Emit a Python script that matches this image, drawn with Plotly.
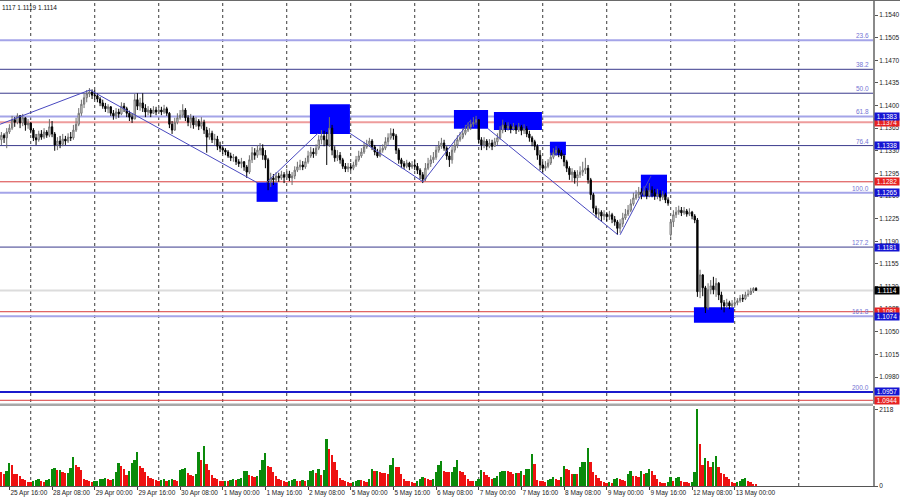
import plotly.graph_objects as go

# ---------------- DATA (EURUSD H1, bar index 0 = 25 Apr 13:00) ----------------
closes = [
    1.1354, 1.1350, 1.1359, 1.1365, 1.1378, 1.1374, 1.1384, 1.1373, 1.1381, 1.1370, 1.1373,
    1.1362, 1.1350, 1.1347, 1.1356, 1.1351, 1.1359, 1.1354, 1.1367, 1.1356, 1.1339, 1.1345, 1.1340,
    1.1348, 1.1345, 1.1351, 1.1350, 1.1362, 1.1371, 1.1388, 1.1402, 1.1412, 1.1418, 1.1421, 1.1416,
    1.1415, 1.1410, 1.1404, 1.1399, 1.1395, 1.1398, 1.1388, 1.1384, 1.1390, 1.1387, 1.1399, 1.1395,
    1.1388, 1.1382, 1.1379, 1.1409, 1.1399, 1.1404, 1.1396, 1.1390, 1.1393, 1.1388, 1.1393, 1.1390,
    1.1393, 1.1390, 1.1395, 1.1388, 1.1371, 1.1362, 1.1374, 1.1381, 1.1385, 1.1393, 1.1381, 1.1374,
    1.1381, 1.1370, 1.1376, 1.1368, 1.1374, 1.1362, 1.1351, 1.1357, 1.1347, 1.1348, 1.1337, 1.1334,
    1.1331, 1.1328, 1.1322, 1.1319, 1.1320, 1.1313, 1.1310, 1.1313, 1.1305, 1.1297, 1.1316, 1.1327,
    1.1323, 1.1331, 1.1334, 1.1323, 1.1316, 1.1282, 1.1288, 1.1285, 1.1291, 1.1288, 1.1293, 1.1289,
    1.1294, 1.1288, 1.1291, 1.1300, 1.1305, 1.1308, 1.1305, 1.1313, 1.1322, 1.1328, 1.1325, 1.1334,
    1.1347, 1.1353, 1.1347, 1.1339, 1.1365, 1.1331, 1.1319, 1.1323, 1.1316, 1.1306, 1.1302, 1.1305,
    1.1303, 1.1308, 1.1316, 1.1322, 1.1328, 1.1336, 1.1340, 1.1345, 1.1336, 1.1328, 1.1322, 1.1331,
    1.1334, 1.1344, 1.1350, 1.1357, 1.1353, 1.1331, 1.1316, 1.1310, 1.1306, 1.1311, 1.1305, 1.1308,
    1.1306, 1.1300, 1.1293, 1.1286, 1.1303, 1.1310, 1.1316, 1.1320, 1.1331, 1.1337, 1.1342, 1.1334,
    1.1322, 1.1316, 1.1331, 1.1339, 1.1347, 1.1351, 1.1357, 1.1362, 1.1367, 1.1371, 1.1374, 1.1378,
    1.1347, 1.1339, 1.1345, 1.1337, 1.1342, 1.1337, 1.1344, 1.1350, 1.1362, 1.1370, 1.1365, 1.1368,
    1.1364, 1.1367, 1.1362, 1.1367, 1.1361, 1.1364, 1.1356, 1.1350, 1.1344, 1.1337, 1.1323, 1.1308,
    1.1303, 1.1306, 1.1311, 1.1320, 1.1327, 1.1331, 1.1327, 1.1322, 1.1313, 1.1303, 1.1293, 1.1297,
    1.1288, 1.1293, 1.1297, 1.1300, 1.1303, 1.1285, 1.1262, 1.1241, 1.1232, 1.1235, 1.1229, 1.1232,
    1.1228, 1.1231, 1.1224, 1.1220, 1.1210, 1.1217, 1.1226, 1.1232, 1.1238, 1.1248, 1.1257, 1.1262,
    1.1266, 1.1262, 1.1268, 1.1260, 1.1269, 1.1265, 1.1260, 1.1263, 1.1258, 1.1262, 1.1254, 1.1249,
    1.1220, 1.1231, 1.1235, 1.1238, 1.1234, 1.1237, 1.1232, 1.1235, 1.1229, 1.1223, 1.1112, 1.1138,
    1.1118, 1.1087, 1.1115, 1.1121, 1.1115, 1.1125, 1.1107, 1.1095, 1.1090, 1.1095, 1.1090, 1.1093,
    1.1095, 1.1098, 1.1102, 1.1101, 1.1107, 1.1108, 1.1113, 1.1117, 1.1114,
]
highs = [
    1.1359, 1.1357, 1.1365, 1.1371, 1.1384, 1.1382, 1.1388, 1.1385, 1.1387, 1.1379, 1.1379,
    1.1374, 1.1365, 1.1356, 1.1361, 1.1362, 1.1365, 1.1362, 1.1379, 1.1376, 1.1359, 1.1351, 1.1353,
    1.1356, 1.1353, 1.1357, 1.1359, 1.1370, 1.1381, 1.1396, 1.1409, 1.1419, 1.1424, 1.1427, 1.1425,
    1.1424, 1.1419, 1.1413, 1.1409, 1.1404, 1.1402, 1.1399, 1.1393, 1.1396, 1.1395, 1.1405, 1.1404,
    1.1398, 1.1392, 1.1388, 1.1418, 1.1419, 1.1412, 1.1419, 1.1402, 1.1399, 1.1396, 1.1399, 1.1398,
    1.1399, 1.1398, 1.1401, 1.1398, 1.1390, 1.1376, 1.1381, 1.1388, 1.1393, 1.1402, 1.1396, 1.1385,
    1.1387, 1.1384, 1.1382, 1.1379, 1.1382, 1.1378, 1.1367, 1.1365, 1.1361, 1.1356, 1.1353, 1.1344,
    1.1337, 1.1334, 1.1331, 1.1327, 1.1325, 1.1322, 1.1317, 1.1319, 1.1314, 1.1308, 1.1323, 1.1336,
    1.1334, 1.1339, 1.1342, 1.1340, 1.1331, 1.1319, 1.1296, 1.1294, 1.1297, 1.1296, 1.1299, 1.1297,
    1.1302, 1.1299, 1.1297, 1.1306, 1.1313, 1.1316, 1.1314, 1.1319, 1.1330, 1.1336, 1.1334, 1.1340,
    1.1354, 1.1362, 1.1361, 1.1359, 1.1382, 1.1370, 1.1337, 1.1331, 1.1328, 1.1319, 1.1311, 1.1311,
    1.1311, 1.1313, 1.1322, 1.1330, 1.1334, 1.1344, 1.1347, 1.1350, 1.1348, 1.1339, 1.1333, 1.1337,
    1.1340, 1.1351, 1.1357, 1.1365, 1.1364, 1.1356, 1.1334, 1.1319, 1.1314, 1.1316, 1.1313, 1.1314,
    1.1316, 1.1311, 1.1303, 1.1297, 1.1311, 1.1319, 1.1323, 1.1328, 1.1337, 1.1345, 1.1350, 1.1347,
    1.1337, 1.1328, 1.1337, 1.1347, 1.1354, 1.1359, 1.1365, 1.1370, 1.1374, 1.1378, 1.1382, 1.1384,
    1.1378, 1.1351, 1.1351, 1.1348, 1.1348, 1.1347, 1.1350, 1.1357, 1.1368, 1.1378, 1.1374, 1.1374,
    1.1371, 1.1373, 1.1370, 1.1373, 1.1370, 1.1371, 1.1368, 1.1361, 1.1353, 1.1347, 1.1340, 1.1331,
    1.1313, 1.1314, 1.1317, 1.1327, 1.1334, 1.1337, 1.1334, 1.1331, 1.1325, 1.1316, 1.1306, 1.1303,
    1.1300, 1.1300, 1.1306, 1.1313, 1.1319, 1.1308, 1.1288, 1.1265, 1.1245, 1.1241, 1.1238, 1.1238,
    1.1235, 1.1237, 1.1234, 1.1229, 1.1223, 1.1224, 1.1234, 1.1240, 1.1246, 1.1255, 1.1265, 1.1269,
    1.1274, 1.1272, 1.1275, 1.1272, 1.1280, 1.1275, 1.1271, 1.1271, 1.1269, 1.1268, 1.1265, 1.1258,
    1.1223, 1.1238, 1.1243, 1.1245, 1.1243, 1.1243, 1.1240, 1.1241, 1.1237, 1.1232, 1.1226, 1.1146,
    1.1139, 1.1121, 1.1125, 1.1130, 1.1135, 1.1133, 1.1127, 1.1112, 1.1099, 1.1101, 1.1098, 1.1099,
    1.1101, 1.1102, 1.1107, 1.1108, 1.1112, 1.1115, 1.1118, 1.1119, 1.1119,
]
lows = [
    1.1339, 1.1342, 1.1334, 1.1356, 1.1362, 1.1367, 1.1371, 1.1365, 1.1368, 1.1361, 1.1364,
    1.1357, 1.1345, 1.1339, 1.1344, 1.1347, 1.1348, 1.1350, 1.1351, 1.1351, 1.1330, 1.1331, 1.1334,
    1.1337, 1.1339, 1.1342, 1.1345, 1.1347, 1.1359, 1.1368, 1.1384, 1.1396, 1.1405, 1.1413, 1.1410,
    1.1409, 1.1405, 1.1399, 1.1395, 1.1390, 1.1388, 1.1384, 1.1378, 1.1379, 1.1381, 1.1385, 1.1390,
    1.1382, 1.1376, 1.1373, 1.1379, 1.1393, 1.1392, 1.1390, 1.1382, 1.1385, 1.1382, 1.1387, 1.1385,
    1.1387, 1.1385, 1.1387, 1.1384, 1.1365, 1.1356, 1.1361, 1.1371, 1.1378, 1.1381, 1.1376, 1.1368,
    1.1365, 1.1364, 1.1367, 1.1362, 1.1364, 1.1356, 1.1327, 1.1347, 1.1342, 1.1339, 1.1331, 1.1328,
    1.1325, 1.1323, 1.1319, 1.1314, 1.1313, 1.1308, 1.1305, 1.1303, 1.1299, 1.1288, 1.1294, 1.1311,
    1.1316, 1.1319, 1.1323, 1.1316, 1.1303, 1.1269, 1.1274, 1.1277, 1.1280, 1.1282, 1.1285, 1.1280,
    1.1285, 1.1283, 1.1277, 1.1286, 1.1297, 1.1300, 1.1300, 1.1302, 1.1310, 1.1319, 1.1319, 1.1322,
    1.1331, 1.1340, 1.1337, 1.1308, 1.1336, 1.1323, 1.1313, 1.1314, 1.1310, 1.1302, 1.1297, 1.1297,
    1.1299, 1.1300, 1.1305, 1.1313, 1.1319, 1.1325, 1.1333, 1.1336, 1.1331, 1.1323, 1.1319, 1.1320,
    1.1327, 1.1331, 1.1339, 1.1347, 1.1347, 1.1325, 1.1310, 1.1303, 1.1302, 1.1303, 1.1300, 1.1302,
    1.1300, 1.1294, 1.1286, 1.1280, 1.1283, 1.1300, 1.1305, 1.1311, 1.1316, 1.1327, 1.1333, 1.1330,
    1.1316, 1.1305, 1.1310, 1.1327, 1.1334, 1.1344, 1.1348, 1.1354, 1.1359, 1.1362, 1.1367, 1.1370,
    1.1342, 1.1331, 1.1334, 1.1331, 1.1334, 1.1331, 1.1336, 1.1339, 1.1347, 1.1357, 1.1359, 1.1361,
    1.1357, 1.1361, 1.1356, 1.1359, 1.1354, 1.1356, 1.1351, 1.1344, 1.1337, 1.1331, 1.1316, 1.1300,
    1.1297, 1.1299, 1.1303, 1.1308, 1.1317, 1.1322, 1.1320, 1.1317, 1.1306, 1.1297, 1.1285, 1.1282,
    1.1279, 1.1275, 1.1288, 1.1291, 1.1294, 1.1279, 1.1254, 1.1234, 1.1226, 1.1223, 1.1220, 1.1223,
    1.1221, 1.1223, 1.1218, 1.1214, 1.1200, 1.1203, 1.1212, 1.1223, 1.1229, 1.1235, 1.1245, 1.1254,
    1.1257, 1.1255, 1.1258, 1.1255, 1.1258, 1.1258, 1.1254, 1.1255, 1.1252, 1.1254, 1.1249, 1.1245,
    1.1197, 1.1212, 1.1226, 1.1231, 1.1229, 1.1231, 1.1228, 1.1229, 1.1224, 1.1218, 1.1104, 1.1102,
    1.1105, 1.1079, 1.1084, 1.1108, 1.1108, 1.1104, 1.1099, 1.1084, 1.1080, 1.1087, 1.1085, 1.1087,
    1.1087, 1.1091, 1.1095, 1.1096, 1.1099, 1.1104, 1.1107, 1.1110, 1.1114,
]
# opens = previous close, except the first bar and the Monday 12 May gap
open_overrides = {0: 1.1347, 251: 1.1200}

volumes = [
    380, 330, 420, 630, 580, 340, 320, 280, 200, 170, 120,
    110, 150, 170, 190, 130, 110, 160, 180, 480, 490, 430, 450, 380, 360, 370, 500, 800, 580, 520, 430, 200, 170, 150, 110,
    130, 150, 180, 190, 230, 180, 170, 200, 400, 630, 550, 480, 300, 420, 630, 710, 950, 560, 490, 380, 280, 230, 180, 160,
    140, 160, 180, 150, 170, 190, 160, 150, 440, 470, 490, 350, 300, 280, 340, 930, 710, 1100, 620, 440, 300, 220, 180, 140,
    130, 150, 140, 160, 180, 170, 190, 220, 410, 420, 300, 270, 260, 280, 450, 710, 900, 550, 520, 380, 270, 200, 170, 130,
    110, 140, 170, 190, 150, 140, 160, 150, 170, 420, 440, 350, 470, 300, 440, 1300, 1020, 850, 670, 440, 220, 170, 130, 110,
    90, 110, 150, 170, 160, 140, 120, 190, 460, 410, 420, 380, 360, 350, 330, 580, 770, 530, 520, 330, 200, 150, 130, 100,
    80, 140, 200, 250, 230, 180, 160, 200, 380, 580, 690, 410, 400, 380, 400, 520, 710, 410, 380, 300, 180, 150, 130, 140,
    180, 440, 380, 300, 240, 200, 220, 270, 400, 410, 420, 410, 390, 330, 360, 350, 420, 300, 460, 470, 880, 600, 160, 140,
    130, 110, 170, 200, 240, 190, 170, 250, 540, 470, 440, 330, 340, 330, 520, 650, 670, 1050, 650, 380, 300, 220, 150, 120,
    90, 100, 80, 190, 210, 200, 170, 140, 340, 410, 280, 270, 260, 410, 340, 360, 470, 410, 300, 200, 110, 80, 70, 110,
    245, 140, 220, 250, 140, 120, 100, 90, 110, 380, 2118, 1150, 590, 770, 700, 520, 660, 840, 520, 360, 340, 250, 180, 100,
    80, 120, 150, 180, 210, 140, 110, 60, 30,
]

time_tick_idx = [3, 19, 35, 51, 67, 83, 99, 115, 131, 147, 163, 179, 195, 211, 227, 243, 259, 275]
time_tick_labels = ["25 Apr 16:00", "28 Apr 08:00", "29 Apr 00:00", "29 Apr 16:00", "30 Apr 08:00",
                    "1 May 00:00", "1 May 16:00", "2 May 08:00", "5 May 00:00", "5 May 16:00",
                    "6 May 08:00", "7 May 00:00", "7 May 16:00", "8 May 08:00", "9 May 00:00",
                    "9 May 16:00", "12 May 08:00", "13 May 00:00"]
day_start_idx = [11, 35, 59, 83, 107, 131, 155, 179, 203, 227, 251, 275, 299]

price_ticks = [1.0980, 1.1015, 1.1050, 1.1085, 1.1120, 1.1155, 1.1190, 1.1225, 1.1260,
               1.1295, 1.1330, 1.1365, 1.1400, 1.1435, 1.1470, 1.1505, 1.1540]

fib_labels = ["23.6", "38.2", "50.0", "61.8", "76.4", "100.0", "127.2", "161.8", "200.0"]
fib_prices = [1.1501, 1.1456, 1.1419, 1.1383, 1.1338, 1.1265, 1.1181, 1.1074, 1.0957]
fib_tagged = [False, False, False, True, True, True, True, True, True]
red_levels = [1.1374, 1.1282, 1.1081, 1.0944]
current_price = 1.1114

# zones: (bar_from, bar_to, price_low, price_high)
zones = [(95.7, 103.6, 1.1251, 1.1281), (115.7, 130.7, 1.1356, 1.1402),
         (169.7, 182.5, 1.1364, 1.1393), (184.7, 202.7, 1.1362, 1.1390),
         (205.7, 211.7, 1.1323, 1.1344), (239.8, 249.6, 1.1259, 1.1293),
         (259.7, 274.7, 1.1064, 1.1088)]
# zigzag trend lines: (bar0, price0, bar1, price1)
swings = [(-0.5, 1.1371, 33.2, 1.1424), (33.2, 1.1424, 96.2, 1.1280),
          (99.2, 1.1280, 118.7, 1.1357), (130.7, 1.1357, 158.1, 1.1282),
          (158.1, 1.1282, 175.7, 1.1376), (182.5, 1.1364, 231.2, 1.1200),
          (232.0, 1.1200, 243.6, 1.1291)]

header_text = "1117 1.1119 1.1114"

# ---------------- BUILD ----------------
n = len(closes)
xs = list(range(n))
opens = [open_overrides[i] if i in open_overrides else closes[i - 1] for i in range(n)]
highs_c = [max(h, o, c) for h, o, c in zip(highs, opens, closes)]
lows_c = [min(l, o, c) for l, o, c in zip(lows, opens, closes)]
vol_colors = ['#0a8a0a' if (i > 0 and volumes[i] > volumes[i - 1]) else '#ee1111' for i in range(n)]

FONT = "Liberation Sans"
FS = 6.5

fig = go.Figure()
fig.add_trace(go.Candlestick(
    x=xs, open=opens, high=highs_c, low=lows_c, close=closes,
    increasing=dict(line=dict(color='#6e6e6e', width=1), fillcolor='#ffffff'),
    decreasing=dict(line=dict(color='#000000', width=1), fillcolor='#000000'),
    whiskerwidth=0, xaxis='x', yaxis='y', hoverinfo='skip'))
fig.add_trace(go.Bar(x=xs, y=volumes, marker=dict(color=vol_colors, line=dict(width=0)),
                     width=0.72, xaxis='x', yaxis='y2', hoverinfo='skip'))

shapes = []
for b0, b1, p0, p1 in zones:
    shapes.append(dict(type='rect', xref='x', yref='y', x0=b0, x1=b1, y0=p0, y1=p1,
                       fillcolor='#0000ff', line=dict(width=0), layer='below'))
for d in day_start_idx:
    shapes.append(dict(type='line', xref='x', yref='paper', x0=d, x1=d, y0=0, y1=1,
                       line=dict(color='#3a3a3a', width=1, dash='3px,3px'), layer='below'))
for lab, p in zip(fib_labels, fib_prices):
    if lab in ("23.6", "61.8", "100.0", "161.8"):
        col, w = '#a4a4e8', 2
    elif lab == "200.0":
        col, w = '#1a1acc', 2
    else:
        col, w = '#3a3a8c', 1
    shapes.append(dict(type='line', xref='paper', yref='y', x0=0, x1=1, y0=p, y1=p,
                       line=dict(color=col, width=w), layer='below'))
for k, p in enumerate(red_levels):
    col, w = ('#ee9c9c', 2) if k == 0 else ('#d83c3c', 1)
    shapes.append(dict(type='line', xref='paper', yref='y', x0=0, x1=1, y0=p, y1=p,
                       line=dict(color=col, width=w), layer='below'))
shapes.append(dict(type='line', xref='paper', yref='y', x0=0, x1=1, y0=current_price, y1=current_price,
                   line=dict(color='#dcdcdc', width=2), layer='below'))
for b0, p0, b1, p1 in swings:
    shapes.append(dict(type='line', xref='x', yref='y', x0=b0, x1=b1, y0=p0, y1=p1,
                       line=dict(color='#4848c0', width=1)))
shapes.append(dict(type='rect', xref='paper', yref='paper', x0=0, x1=1, y0=0.1646, y1=0.1697,
                   fillcolor='#a8a8a8', line=dict(width=0)))
shapes.append(dict(type='line', xref='paper', yref='paper', x0=0, x1=1.04, y0=1, y1=1,
                   line=dict(color='#6a6a6a', width=2)))

annotations = []
for lab, p in zip(fib_labels, fib_prices):
    annotations.append(dict(xref='paper', yref='y', x=1, y=p, xanchor='right', yanchor='bottom',
                            xshift=-2, yshift=-1, text=lab, showarrow=False,
                            font=dict(family=FONT, size=FS, color='#7474d4')))


def tag(price, color):
    return dict(xref='paper', yref='y', x=1, y=price, xanchor='left', yanchor='middle', xshift=1,
                text=f"{price:.4f}", showarrow=False, bgcolor=color, width=24, height=7, borderpad=0,
                font=dict(family=FONT, size=FS, color='white'))


# red tags underneath, blue fib tags on top, current price last
for p in red_levels:
    annotations.append(tag(p, '#e62222'))
for p, t in zip(fib_prices, fib_tagged):
    if t:
        annotations.append(tag(p, '#1414d2'))
annotations.append(tag(current_price, '#000000'))
annotations.append(dict(xref='paper', yref='paper', x=0, y=1, xanchor='left', yanchor='top', yshift=-2,
                        text=header_text, showarrow=False, font=dict(family=FONT, size=FS, color='#111')))

xmin = -0.525
xmax = 326.85
fig.update_layout(
    width=900, height=500, margin=dict(l=0, r=27, t=0, b=14, autoexpand=False),
    paper_bgcolor='white', plot_bgcolor='white', showlegend=False, bargap=0,
    shapes=shapes, annotations=annotations,
    xaxis=dict(domain=[0, 1], range=[xmin, xmax], anchor='y2', rangeslider=dict(visible=False),
               automargin=False, tickangle=0,
               tickmode='array', tickvals=time_tick_idx, ticktext=time_tick_labels,
               ticks='outside', ticklen=3, tickcolor='#444', ticklabelposition='outside right',
               tickfont=dict(family=FONT, size=FS, color='#222'),
               showgrid=False, zeroline=False, showline=True, linecolor='#555', linewidth=1),
    yaxis=dict(domain=[0.1697, 1], range=[1.09390, 1.15632], side='right', anchor='x', automargin=False,
               tickmode='array', tickvals=price_ticks, tickformat='.4f',
               ticks='outside', ticklen=3, tickcolor='#555',
               tickfont=dict(family=FONT, size=FS, color='#222'),
               showgrid=False, zeroline=False, showline=True, linecolor='#8a8a8a', linewidth=2),
    yaxis2=dict(domain=[0, 0.1646], range=[0, 2209], side='right', anchor='x', automargin=False,
                tickmode='array', tickvals=[0, 2118], ticktext=['0', '2118'],
                ticks='outside', ticklen=3, tickcolor='#555',
                tickfont=dict(family=FONT, size=FS, color='#222'),
                showgrid=False, zeroline=False, showline=True, linecolor='#8a8a8a', linewidth=2),
)

fig.write_html("out.html", config={'displayModeBar': False},
               post_script="document.body.style.margin='0px';document.body.style.padding='0px';")
